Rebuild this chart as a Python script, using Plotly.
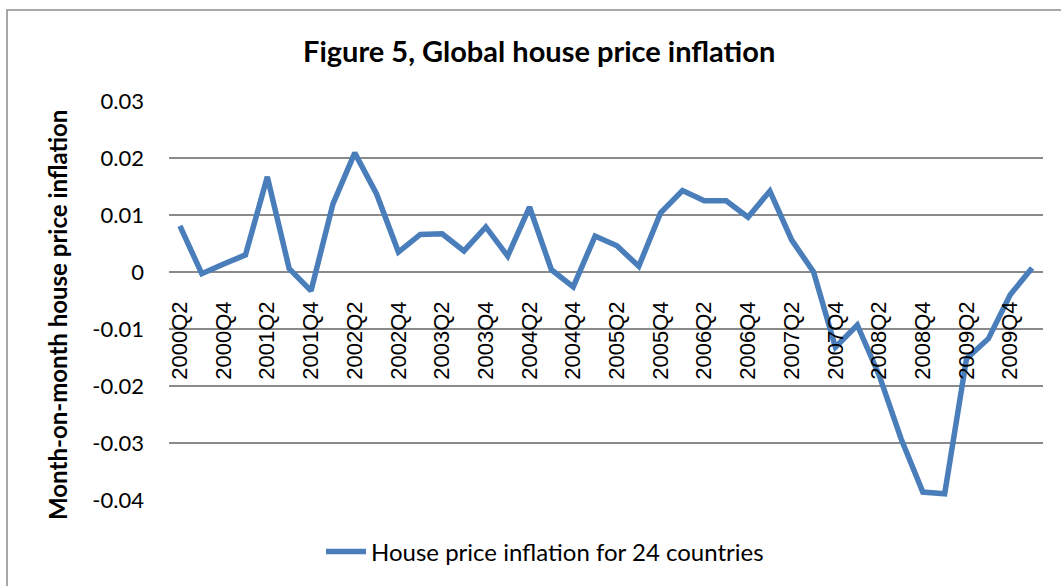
import plotly.graph_objects as go

quarters = [
    "2000Q2", "2000Q3", "2000Q4", "2001Q1", "2001Q2", "2001Q3", "2001Q4", "2002Q1",
    "2002Q2", "2002Q3", "2002Q4", "2003Q1", "2003Q2", "2003Q3", "2003Q4", "2004Q1",
    "2004Q2", "2004Q3", "2004Q4", "2005Q1", "2005Q2", "2005Q3", "2005Q4", "2006Q1",
    "2006Q2", "2006Q3", "2006Q4", "2007Q1", "2007Q2", "2007Q3", "2007Q4", "2008Q1",
    "2008Q2", "2008Q3", "2008Q4", "2009Q1", "2009Q2", "2009Q3", "2009Q4", "2010Q1",
]
inflation = [
    0.0081, -0.0003, 0.0014, 0.0030, 0.0167, 0.0006, -0.0033, 0.0119,
    0.0209, 0.0137, 0.0035, 0.0066, 0.0067, 0.0037, 0.0079, 0.0028,
    0.0114, 0.0004, -0.0026, 0.0063, 0.0046, 0.0010, 0.0104, 0.0143,
    0.0125, 0.0125, 0.0096, 0.0142, 0.0056, 0.0000, -0.0132, -0.0093,
    -0.0181, -0.0292, -0.0386, -0.0389, -0.0152, -0.0117, -0.0040, 0.0007,
]
x_tick_labels = quarters[::2]
y_tick_vals = [0.03, 0.02, 0.01, 0.0, -0.01, -0.02, -0.03, -0.04]
y_tick_text = ["0.03", "0.02", "0.01", "0", "-0.01", "-0.02", "-0.03", "-0.04"]

series_name = "House price inflation for 24 countries"
title_text = "Figure 5, Global house price inflation"
y_title = "Month-on-month house price inflation"

W, H = 1061, 586
L, R, T, B = 169, 18, 101, 86
pw, ph = W - L - R, H - T - B

def px_x(px):
    return (px - L) / pw

def px_y(py):
    return (H - B - py) / ph

y_min, y_max = -0.04, 0.03
zero_pos = (0 - y_min) / (y_max - y_min)

grid_color = "#8a8a8a"
line_color = "#4A7EBB"
font_main = "Lato, 'Open Sans', sans-serif"

fig = go.Figure()
fig.add_trace(go.Scatter(
    x=quarters, y=inflation, mode="lines", name=series_name,
    line=dict(color=line_color, width=5.5), showlegend=True,
))

fig.update_layout(
    width=W, height=H,
    margin=dict(l=L, r=R, t=T, b=B),
    paper_bgcolor="white", plot_bgcolor="white",
    font=dict(family=font_main, color="black"),
    showlegend=True,
    legend=dict(
        orientation="h", x=px_x(545), y=px_y(552), xanchor="center", yanchor="middle",
        font=dict(size=24, family=font_main, color="black"),
        bgcolor="rgba(0,0,0,0)", itemwidth=40,
    ),
    xaxis=dict(
        type="category", categoryorder="array", categoryarray=quarters,
        range=[-0.5, len(quarters) - 0.5],
        anchor="free", position=zero_pos,
        tickmode="array", tickvals=x_tick_labels, ticktext=x_tick_labels,
        tickangle=-90, tickfont=dict(family="'Liberation Sans', Arial, sans-serif", size=22, color="black"),
        ticklabelstandoff=24,
        showgrid=False, showline=False, zeroline=False, ticks="",
    ),
    yaxis=dict(
        range=[y_min, y_max],
        tickmode="array", tickvals=y_tick_vals, ticktext=y_tick_text,
        tickfont=dict(family=font_main, size=22, color="black"),
        ticklabelstandoff=24,
        showgrid=True, gridcolor=grid_color, gridwidth=1.5,
        zeroline=True, zerolinecolor=grid_color, zerolinewidth=1.5,
        showline=False, ticks="",
    ),
    annotations=[
        dict(text=f"<b>{title_text}</b>", x=px_x(539), y=px_y(51), xref="paper", yref="paper",
             xanchor="center", yanchor="middle", showarrow=False,
             font=dict(size=29, family=font_main, color="black")),
        dict(text=f"<b>{y_title}</b>", x=px_x(57), y=px_y(315), xref="paper", yref="paper",
             xanchor="center", yanchor="middle", showarrow=False, textangle=-90,
             font=dict(size=24, family=font_main, color="black")),
    ],
    shapes=[
        dict(type="rect", xref="paper", yref="paper",
             x0=px_x(7), y0=px_y(600), x1=px_x(1075), y1=px_y(10),
             line=dict(color="#8c8c8c", width=1.5), fillcolor="rgba(0,0,0,0)", layer="below"),
    ],
)

fig.write_html(
    "out.html",
    config={"displayModeBar": False},
    post_script="document.body.style.margin='0';document.body.style.overflow='hidden';",
)
